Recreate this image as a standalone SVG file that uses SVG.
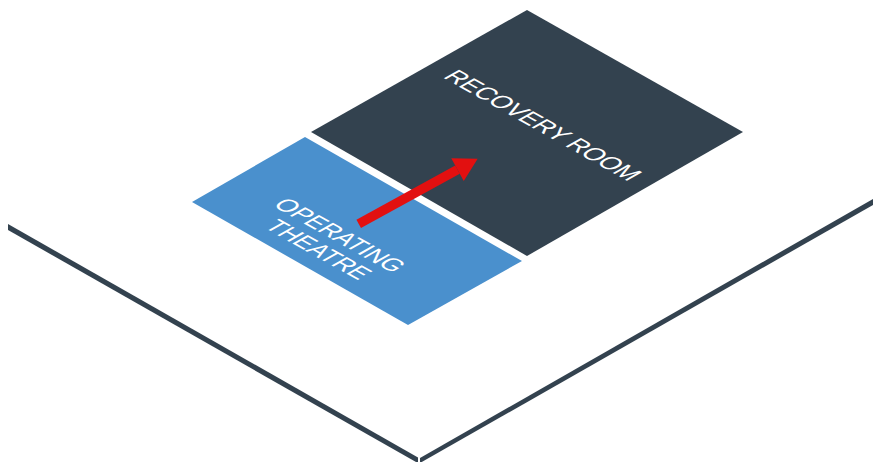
<svg xmlns="http://www.w3.org/2000/svg" width="873" height="462" viewBox="0 0 873 462">
<style>
.wall{fill:#33424f}
.lbl{font-family:"Liberation Sans",Arial,sans-serif;font-size:22px;fill:#fff;text-anchor:middle}
</style>
<defs>
<marker id="head" markerUnits="userSpaceOnUse" markerWidth="24" markerHeight="26" refX="0" refY="13" orient="auto" overflow="visible"><path d="M0 0L23 13L0 26Z" fill="#e21010"/></marker>
</defs>
<rect width="873" height="462" fill="#fff"/>
<g id="floor-edge">
<polygon class="wall" points="8,224 418,457.5 418,462 416,462 8,230"/>
<polygon class="wall" points="420,458 873,199 873,205 420,463"/>
</g>
<g id="recovery-room">
<polygon class="wall" points="527,10 743,132 527,256 311,132"/>
<text class="lbl" transform="matrix(0.945 0.53 -1 0.565 535.5 129.5)" x="0" y="0">RECOVERY ROOM</text>
</g>
<g id="operating-theatre">
<polygon points="305,137 522,261 408,325 192,202" fill="#4a90cd"/>
<text class="lbl" transform="matrix(0.945 0.53 -1 0.565 332.5 239.5)"><tspan x="0" y="0">OPERATING</tspan><tspan x="2" y="23.5">THEATRE</tspan></text>
</g>
<g id="connectors">
<line x1="358.7" y1="223.8" x2="457.5" y2="169.7" stroke="#e21010" stroke-width="9.5" marker-end="url(#head)"/>
</g>
</svg>
